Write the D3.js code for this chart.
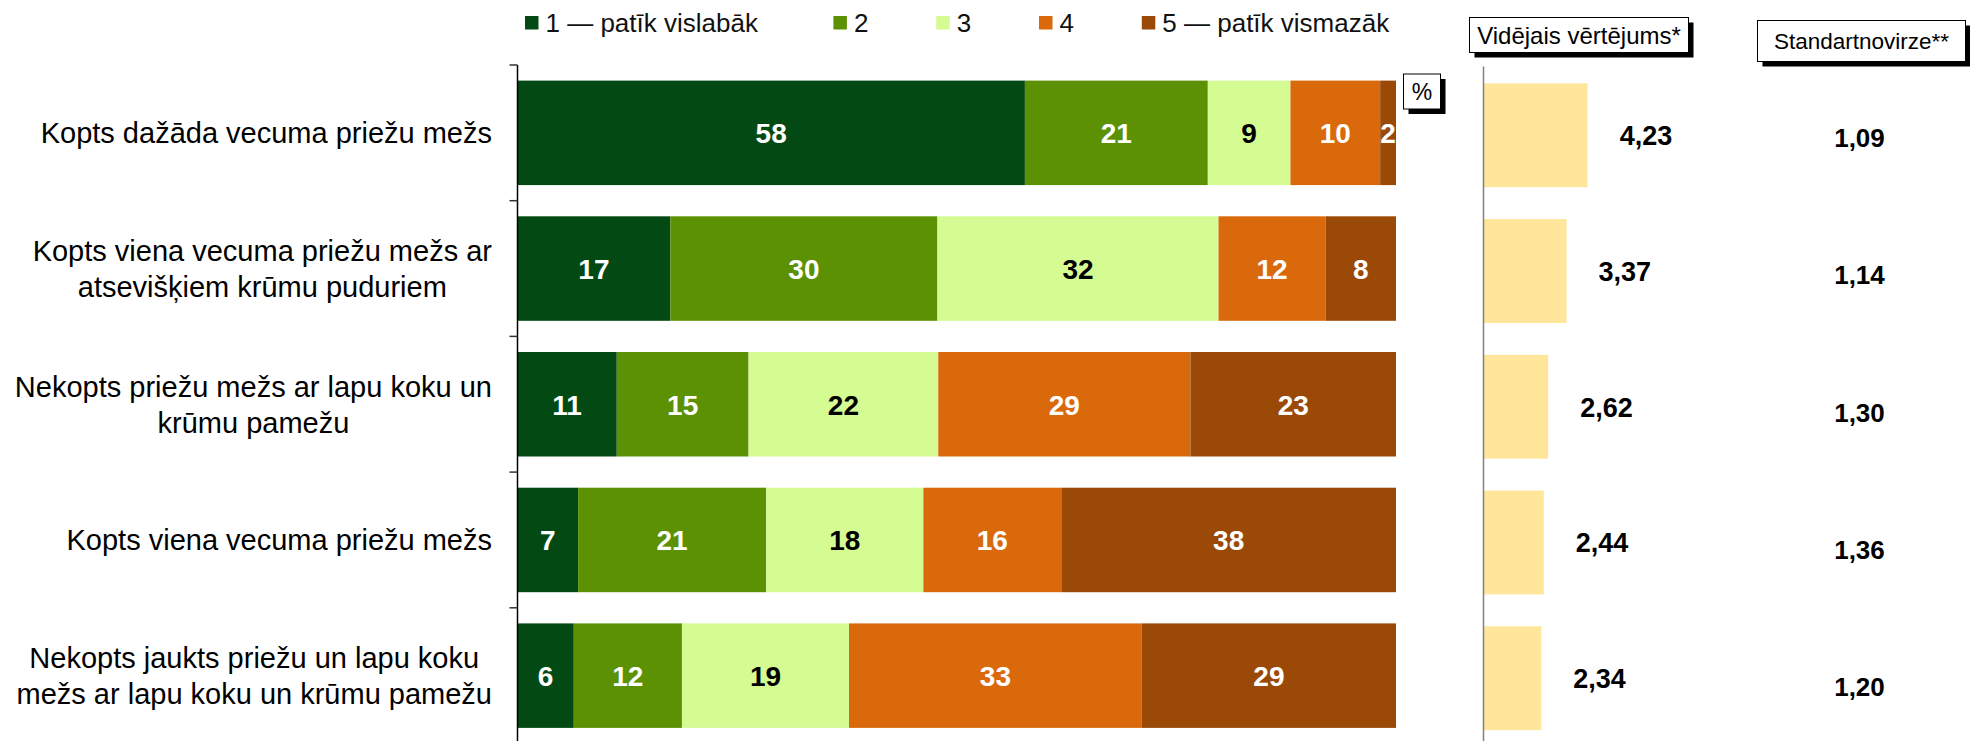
<!DOCTYPE html>
<html>
<head>
<meta charset="utf-8">
<script src="https://cdn.jsdelivr.net/npm/d3@7"></script>
<style>
  html, body { margin: 0; padding: 0; background: #fff; }
  svg { display: block; font-family: "Liberation Sans", Arial, sans-serif; }
</style>
</head>
<body>
<svg id="chart" width="1970" height="741"></svg>
<script>
// ---------- data ----------
const categories = [
  "Kopts dažāda vecuma priežu mežs",
  "Kopts viena vecuma priežu mežs ar\natsevišķiem krūmu puduriem",
  "Nekopts priežu mežs ar lapu koku un\nkrūmu pamežu",
  "Kopts viena vecuma priežu mežs",
  "Nekopts jaukts priežu un lapu koku\nmežs ar lapu koku un krūmu pamežu"
];
const seriesNames = ["1 — patīk vislabāk", "2", "3", "4", "5 — patīk vismazāk"];
const s1 = [57.7, 17.4, 11.3, 6.9, 6.4];
const s2 = [20.8, 30.4, 15.0, 21.4, 12.3];
const s3 = [9.4, 32.0, 21.6, 17.9, 19.0];
const s4 = [10.2, 12.2, 28.7, 15.7, 33.3];
const s5 = [1.8, 8.0, 23.4, 38.1, 28.9];
const means = [4.23, 3.37, 2.62, 2.44, 2.34];
const stds = [1.09, 1.14, 1.30, 1.36, 1.20];
const meanHeader = "Vidējais vērtējums*";
const stdHeader = "Standartnovirze**";
const unitLabel = "%";

// ---------- styles ----------
const colors = ["#034914", "#5C9103", "#D5FB93", "#DA690B", "#9A4907"];
const labelColors = ["#fff", "#fff", "#000", "#fff", "#fff"];
const meanColor = "#FFE69A";
const fmt = d3.formatLocale({decimal: ",", thousands: " ", grouping: [3], currency: ["", ""]}).format(".2f");
const fmtPct = d3.format(".0f");

const svg = d3.select("#chart");

const rows = categories.map((c, i) => ({cat: c, k0: s1[i], k1: s2[i], k2: s3[i], k3: s4[i], k4: s5[i]}));
const keys = ["k0", "k1", "k2", "k3", "k4"];
const stacked = d3.stack().keys(keys).offset(d3.stackOffsetExpand)(rows);

// ---------- scales ----------
const y = d3.scaleBand().domain(categories).range([65, 743.5]).paddingInner(0.23).paddingOuter(0.115);
const x = d3.scaleLinear().domain([0, 1]).range([517.5, 1396]);
const yMean = d3.scaleBand().domain(categories).range([67.5, 746]).paddingInner(0.235).paddingOuter(0.117);
const xMean = d3.scaleLinear().domain([0, 5]).range([1484, 1606.5]);
const yStd = d3.scalePoint().domain(categories).range([138, 687]);

// ---------- stacked bars ----------
const layers = svg.append("g").selectAll("g").data(stacked).join("g")
  .attr("fill", (d, i) => colors[i]);
layers.selectAll("rect").data(d => d).join("rect")
  .attr("x", d => x(d[0]))
  .attr("width", d => x(d[1]) - x(d[0]))
  .attr("y", d => y(d.data.cat))
  .attr("height", y.bandwidth());

// labels in segments
stacked.forEach((layer, li) => {
  svg.append("g").selectAll("text").data(layer).join("text")
    .attr("x", d => (x(d[0]) + x(d[1])) / 2)
    .attr("y", d => y(d.data.cat) + y.bandwidth() / 2 + 10.5)
    .attr("text-anchor", "middle")
    .attr("font-size", 28)
    .attr("font-weight", "bold")
    .attr("fill", labelColors[li])
    .text(d => fmtPct(d.data[keys[li]]));
});

// ---------- left axis ----------
const axisG = svg.append("g");
axisG.append("line")
  .attr("x1", x(0)).attr("x2", x(0))
  .attr("y1", y.range()[0]).attr("y2", 741)
  .attr("stroke", "#000").attr("stroke-width", 1.5);
const boundaries = categories.map(c => y(c) - y.step() * y.paddingOuter());
boundaries.push(y.range()[1]);
axisG.selectAll("line.tick").data(boundaries).join("line")
  .attr("class", "tick")
  .attr("x1", x(0) - 8).attr("x2", x(0))
  .attr("y1", d => d).attr("y2", d => d)
  .attr("stroke", "#333").attr("stroke-width", 1.5);

// category labels: block right-aligned, lines centered within block
const catFont = 29, lineH = 36;
const catG = svg.append("g").attr("font-size", catFont).attr("fill", "#000");
categories.forEach(c => {
  const lines = c.split("\n");
  const g = catG.append("g");
  const texts = lines.map((l, li) => g.append("text")
    .attr("text-anchor", "middle")
    .attr("y", y(c) + y.bandwidth() / 2 + 10.5 + (li - (lines.length - 1) / 2) * lineH)
    .text(l));
  const w = d3.max(texts, t => t.node().getComputedTextLength());
  texts.forEach(t => t.attr("x", 492 - w / 2));
});

// ---------- boxes with shadow ----------
function shadowBox(x0, y0, w, h, label, fs, off) {
  const g = svg.append("g");
  g.append("rect").attr("x", x0 + off).attr("y", y0 + off).attr("width", w).attr("height", h).attr("fill", "#000");
  g.append("rect").attr("x", x0).attr("y", y0).attr("width", w).attr("height", h)
    .attr("fill", "#fff").attr("stroke", "#000").attr("stroke-width", 1);
  g.append("text").attr("x", x0 + w / 2).attr("y", y0 + h / 2 + fs * 0.36)
    .attr("text-anchor", "middle").attr("font-size", fs).attr("fill", "#000").text(label);
}
shadowBox(1403.5, 74, 37, 35, unitLabel, 23, 5);
shadowBox(1469.5, 17.5, 219, 35, meanHeader, 24, 5);
shadowBox(1757.5, 20.5, 208, 41, stdHeader, 22.5, 5);

// ---------- legend ----------
const legX = d3.scaleLinear().domain([0, 1]).range([525, 627.8]);
const legSlot = seriesNames.map((s, i) => i === 0 ? 0 : i + 2);
const leg = svg.append("g").selectAll("g").data(seriesNames).join("g")
  .attr("transform", (d, i) => `translate(${legX(legSlot[i])},0)`);
leg.append("rect").attr("x", 0).attr("y", 16).attr("width", 13.5).attr("height", 13.5)
  .attr("fill", (d, i) => colors[i]);
leg.append("text").attr("x", 20.5).attr("y", 31.5).attr("font-size", 26).attr("fill", "#111").text(d => d);

// ---------- mean bars ----------
svg.append("g").selectAll("rect").data(means).join("rect")
  .attr("x", xMean(0))
  .attr("width", d => xMean(d) - xMean(0))
  .attr("y", (d, i) => yMean(categories[i]))
  .attr("height", yMean.bandwidth())
  .attr("fill", meanColor);
svg.append("line")
  .attr("x1", xMean(0) - 0.5).attr("x2", xMean(0) - 0.5)
  .attr("y1", 66.5).attr("y2", 741)
  .attr("stroke", "#808080").attr("stroke-width", 1.5);
svg.append("g").selectAll("text").data(means).join("text")
  .attr("x", d => xMean(d) + 32)
  .attr("y", (d, i) => yMean(categories[i]) + yMean.bandwidth() / 2 + 10)
  .attr("font-size", 27).attr("font-weight", "bold").attr("fill", "#000")
  .text(d => fmt(d));

// ---------- std values ----------
svg.append("g").selectAll("text").data(stds).join("text")
  .attr("x", 1859.5)
  .attr("y", (d, i) => yStd(categories[i]) + 9)
  .attr("text-anchor", "middle")
  .attr("font-size", 26).attr("font-weight", "bold").attr("fill", "#000")
  .text(d => fmt(d));
</script>
</body>
</html>
